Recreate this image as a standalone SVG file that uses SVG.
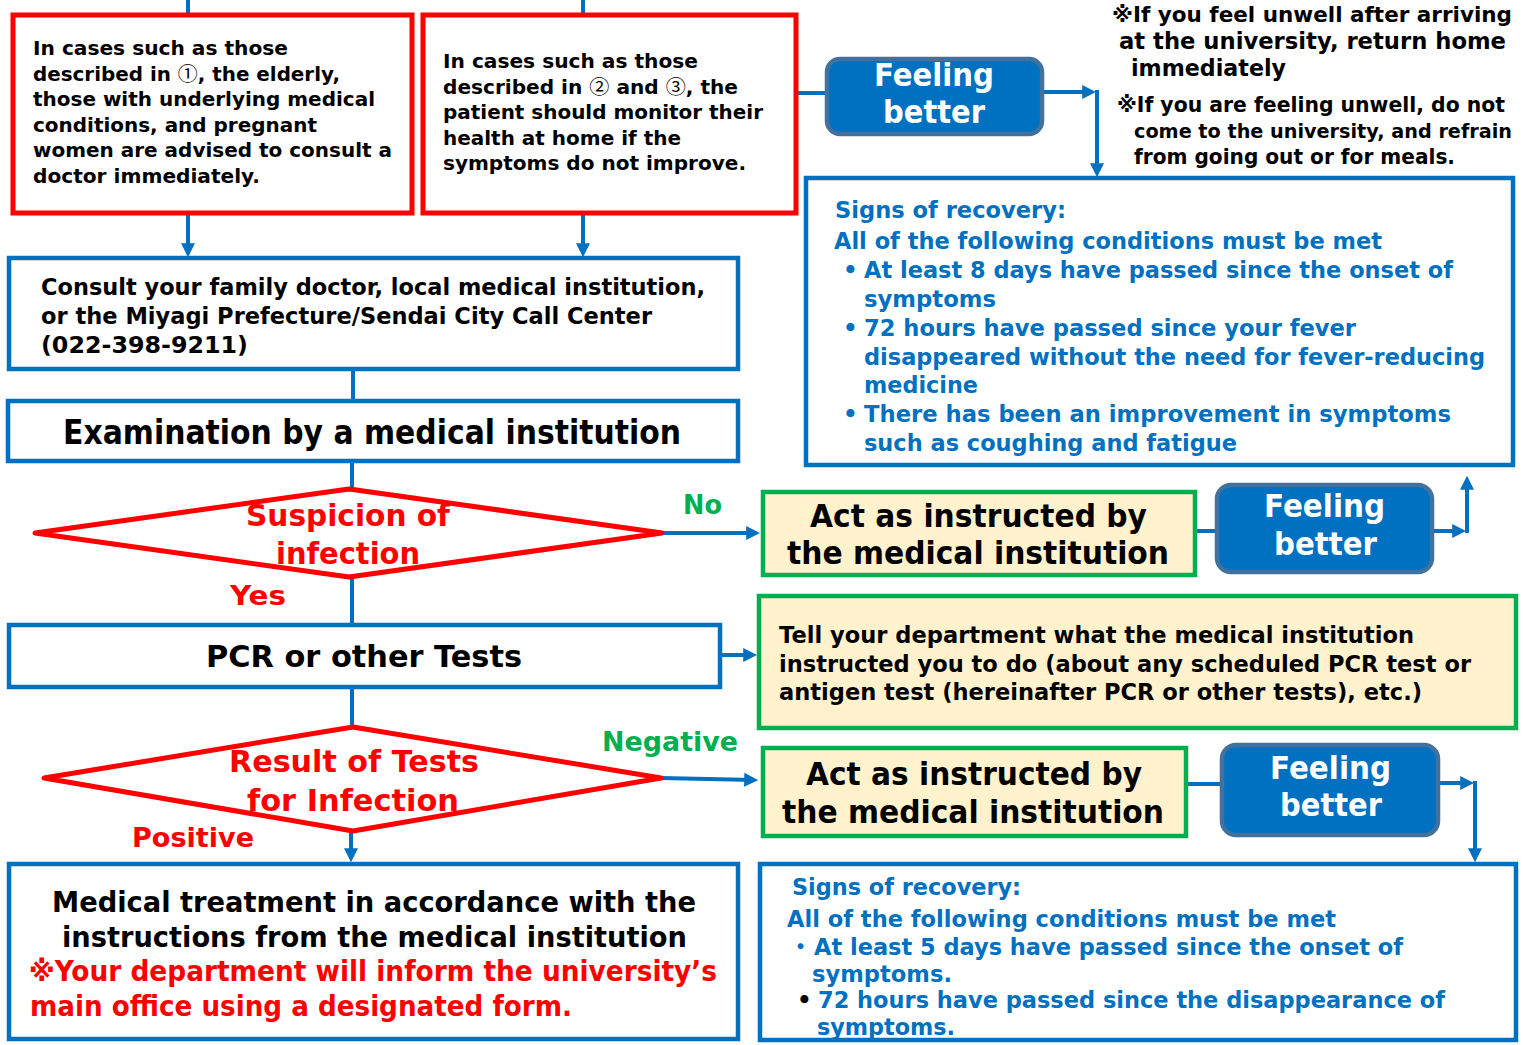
<svg xmlns="http://www.w3.org/2000/svg" width="1523" height="1045" viewBox="0 0 1523 1045">
<defs>
<style>
text{font-family:"DejaVu Sans","Liberation Sans","Noto Sans CJK JP",sans-serif;font-weight:bold;}
.cj{font-family:"Noto Sans CJK JP",sans-serif;font-weight:normal;}
.redbox{fill:#fff;stroke:#FF0000;stroke-width:5;}
.bluebox{fill:#fff;stroke:#0070C0;stroke-width:4.5;}
.greenbox{fill:#FFF2CC;stroke:#00B050;stroke-width:4.5;}
.feel{fill:#0070C0;stroke:#41719C;stroke-width:4.5;}
.diamond{fill:#fff;stroke:#FF0000;stroke-width:5;stroke-linejoin:round;}
.conn{fill:none;stroke:#0070C0;stroke-width:4;}
.arr{marker-end:url(#ah);}
.t19{font-size:19.5px;fill:#000;}
.t23{font-size:23px;fill:#000;}
.t33{font-size:33px;fill:#000;}
.t30{font-size:30px;fill:#000;}
.t31{font-size:31.5px;fill:#000;}
.red30{font-size:30px;fill:#FF0000;}
.red27{font-size:27px;fill:#FF0000;}
.grn27{font-size:27px;fill:#00B050;}
.med{font-size:27.5px;fill:#000;}
.medr{font-size:27.5px;fill:#FF0000;}
.fb{font-size:32px;fill:#fff;}
.sig{font-size:23px;fill:#0070C0;}
.n1{font-size:23px;fill:#000;}
.n2{font-size:21px;fill:#000;}
</style>
<marker id="ah" viewBox="0 0 10 10" refX="7" refY="5" markerWidth="14" markerHeight="15" markerUnits="userSpaceOnUse" orient="auto">
<path d="M0,0 L10,5 L0,10 z" fill="#0070C0"/>
</marker>
</defs>
<rect x="0" y="0" width="1523" height="1045" fill="#fff"/>

<g id="connectors">
<path class="conn" d="M188,0 V15"/>
<path class="conn" d="M583,0 V15"/>
<path class="conn arr" d="M188,213 V253"/>
<path class="conn arr" d="M583,213 V253"/>
<path class="conn" d="M353,369 V400"/>
<path class="conn" d="M352,461 V489"/>
<path class="conn arr" d="M662,533 H756"/>
<path class="conn" d="M352,577 V625"/>
<path class="conn arr" d="M720,655 H753"/>
<path class="conn" d="M352,687 V727"/>
<path class="conn arr" d="M661,778 L754,780"/>
<path class="conn arr" d="M351,831 V858"/>
<path class="conn" d="M797,93 H826"/>
<path class="conn arr" d="M1043,92 H1092"/>
<path class="conn arr" d="M1097,90 V173"/>
<path class="conn" d="M1195,531 H1217"/>
<path class="conn arr" d="M1432,531 H1462"/>
<path class="conn arr" d="M1467,533 V480"/>
<path class="conn" d="M1186,784 H1222"/>
<path class="conn arr" d="M1438,783 H1470"/>
<path class="conn arr" d="M1475,781 V858"/>
</g>

<g id="case1">
<rect class="redbox" x="13" y="15" width="399" height="198"/>
<text class="t19" x="33" y="55" textLength="255" lengthAdjust="spacingAndGlyphs">In cases such as those</text>
<text class="t19" x="33" y="81" textLength="307" lengthAdjust="spacingAndGlyphs">described in <tspan class="cj">①</tspan>, the elderly,</text>
<text class="t19" x="33" y="106" textLength="342" lengthAdjust="spacingAndGlyphs">those with underlying medical</text>
<text class="t19" x="33" y="132" textLength="284" lengthAdjust="spacingAndGlyphs">conditions, and pregnant</text>
<text class="t19" x="33" y="157" textLength="359" lengthAdjust="spacingAndGlyphs">women are advised to consult a</text>
<text class="t19" x="33" y="183" textLength="227" lengthAdjust="spacingAndGlyphs">doctor immediately.</text>
</g>

<g id="case2">
<rect class="redbox" x="423" y="15" width="373" height="198"/>
<text class="t19" x="443" y="68" textLength="255" lengthAdjust="spacingAndGlyphs">In cases such as those</text>
<text class="t19" x="443" y="94" textLength="295" lengthAdjust="spacingAndGlyphs">described in <tspan class="cj">②</tspan> and <tspan class="cj">③</tspan>, the</text>
<text class="t19" x="443" y="119" textLength="320" lengthAdjust="spacingAndGlyphs">patient should monitor their</text>
<text class="t19" x="443" y="145" textLength="238" lengthAdjust="spacingAndGlyphs">health at home if the</text>
<text class="t19" x="443" y="170" textLength="303" lengthAdjust="spacingAndGlyphs">symptoms do not improve.</text>
</g>

<g id="consult">
<rect class="bluebox" x="9" y="258" width="729" height="111"/>
<text class="t23" x="41" y="295" textLength="664" lengthAdjust="spacingAndGlyphs">Consult your family doctor, local medical institution,</text>
<text class="t23" x="41" y="324" textLength="611" lengthAdjust="spacingAndGlyphs">or the Miyagi Prefecture/Sendai City Call Center</text>
<text class="t23" x="41" y="353" textLength="207" lengthAdjust="spacingAndGlyphs">(022-398-9211)</text>
</g>

<g id="examination">
<rect class="bluebox" x="8" y="401" width="730" height="60"/>
<text class="t33" x="63" y="444" textLength="618" lengthAdjust="spacingAndGlyphs">Examination by a medical institution</text>
</g>

<g id="suspicion">
<polygon class="diamond" points="35,533 349,489 662,533 349,577"/>
<text class="red30" x="246" y="526" textLength="204" lengthAdjust="spacingAndGlyphs">Suspicion of</text>
<text class="red30" x="276" y="564" textLength="144" lengthAdjust="spacingAndGlyphs">infection</text>
</g>
<text class="grn27" x="683" y="514" textLength="39" lengthAdjust="spacingAndGlyphs">No</text>
<text class="red27" x="230" y="605" textLength="56" lengthAdjust="spacingAndGlyphs">Yes</text>

<g id="pcr">
<rect class="bluebox" x="9" y="625" width="711" height="62"/>
<text class="t30" x="206" y="667" textLength="316" lengthAdjust="spacingAndGlyphs">PCR or other Tests</text>
</g>

<g id="result">
<polygon class="diamond" points="44,778 353,727 661,778 353,831"/>
<text class="red30" x="229" y="772" textLength="250" lengthAdjust="spacingAndGlyphs">Result of Tests</text>
<text class="red30" x="247" y="811" textLength="212" lengthAdjust="spacingAndGlyphs">for Infection</text>
</g>
<text class="grn27" x="602" y="751" textLength="136" lengthAdjust="spacingAndGlyphs">Negative</text>
<text class="red27" x="132" y="847" textLength="122" lengthAdjust="spacingAndGlyphs">Positive</text>

<g id="treatment">
<rect class="bluebox" x="9" y="864" width="729" height="175"/>
<text class="med" x="52" y="912" textLength="644" lengthAdjust="spacingAndGlyphs">Medical treatment in accordance with the</text>
<text class="med" x="62" y="947" textLength="625" lengthAdjust="spacingAndGlyphs">instructions from the medical institution</text>
<text class="medr" x="29" y="981" textLength="688" lengthAdjust="spacingAndGlyphs">※Your department will inform the university’s</text>
<text class="medr" x="30" y="1016" textLength="542" lengthAdjust="spacingAndGlyphs">main office using a designated form.</text>
</g>

<g id="feeling1">
<rect class="feel" x="827" y="59" width="215" height="75" rx="13"/>
<text class="fb" x="874" y="86" textLength="120" lengthAdjust="spacingAndGlyphs">Feeling</text>
<text class="fb" x="883" y="123" textLength="102" lengthAdjust="spacingAndGlyphs">better</text>
</g>

<g id="notes">
<text class="n1" x="1112" y="22" style="font-size:21.5px" textLength="400" lengthAdjust="spacingAndGlyphs">※If you feel unwell after arriving</text>
<text class="n1" x="1119" y="49" textLength="387" lengthAdjust="spacingAndGlyphs">at the university, return home</text>
<text class="n1" x="1131" y="76" textLength="155" lengthAdjust="spacingAndGlyphs">immediately</text>
<text class="n2" x="1117" y="112" textLength="388" lengthAdjust="spacingAndGlyphs">※If you are feeling unwell, do not</text>
<text class="n2" x="1134" y="138" style="font-size:19.5px" textLength="378" lengthAdjust="spacingAndGlyphs">come to the university, and refrain</text>
<text class="n2" x="1134" y="164" textLength="321" lengthAdjust="spacingAndGlyphs">from going out or for meals.</text>
</g>

<g id="recovery1">
<rect class="bluebox" x="806" y="178" width="707" height="287"/>
<text class="sig" x="835" y="218" textLength="231" lengthAdjust="spacingAndGlyphs">Signs of recovery:</text>
<text class="sig" x="834" y="249" textLength="548" lengthAdjust="spacingAndGlyphs">All of the following conditions must be met</text>
<text class="sig" x="843" y="278">•</text>
<text class="sig" x="864" y="278" textLength="589" lengthAdjust="spacingAndGlyphs">At least 8 days have passed since the onset of</text>
<text class="sig" x="864" y="307" textLength="132" lengthAdjust="spacingAndGlyphs">symptoms</text>
<text class="sig" x="843" y="336">•</text>
<text class="sig" x="864" y="336" textLength="492" lengthAdjust="spacingAndGlyphs">72 hours have passed since your fever</text>
<text class="sig" x="864" y="365" textLength="621" lengthAdjust="spacingAndGlyphs">disappeared without the need for fever-reducing</text>
<text class="sig" x="864" y="393" textLength="114" lengthAdjust="spacingAndGlyphs">medicine</text>
<text class="sig" x="843" y="422">•</text>
<text class="sig" x="864" y="422" textLength="587" lengthAdjust="spacingAndGlyphs">There has been an improvement in symptoms</text>
<text class="sig" x="864" y="451" textLength="373" lengthAdjust="spacingAndGlyphs">such as coughing and fatigue</text>
</g>

<g id="act1">
<rect class="greenbox" x="763" y="492" width="432" height="83"/>
<text class="t31" x="810" y="527" textLength="337" lengthAdjust="spacingAndGlyphs">Act as instructed by</text>
<text class="t31" x="787" y="564" textLength="382" lengthAdjust="spacingAndGlyphs">the medical institution</text>
</g>

<g id="feeling2">
<rect class="feel" x="1217" y="485" width="215" height="87" rx="14"/>
<text class="fb" x="1264" y="517" textLength="121" lengthAdjust="spacingAndGlyphs">Feeling</text>
<text class="fb" x="1274" y="555" textLength="103" lengthAdjust="spacingAndGlyphs">better</text>
</g>

<g id="tell">
<rect class="greenbox" x="759" y="596" width="757" height="132"/>
<text class="t23" x="779" y="643" textLength="635" lengthAdjust="spacingAndGlyphs">Tell your department what the medical institution</text>
<text class="t23" x="779" y="672" textLength="692" lengthAdjust="spacingAndGlyphs">instructed you to do (about any scheduled PCR test or</text>
<text class="t23" x="779" y="700" textLength="643" lengthAdjust="spacingAndGlyphs">antigen test (hereinafter PCR or other tests), etc.)</text>
</g>

<g id="act2">
<rect class="greenbox" x="763" y="748" width="423" height="88"/>
<text class="t31" x="806" y="785" textLength="336" lengthAdjust="spacingAndGlyphs">Act as instructed by</text>
<text class="t31" x="782" y="823" textLength="382" lengthAdjust="spacingAndGlyphs">the medical institution</text>
</g>

<g id="feeling3">
<rect class="feel" x="1222" y="745" width="216" height="90" rx="14"/>
<text class="fb" x="1270" y="779" textLength="121" lengthAdjust="spacingAndGlyphs">Feeling</text>
<text class="fb" x="1280" y="816" textLength="102" lengthAdjust="spacingAndGlyphs">better</text>
</g>

<g id="recovery2">
<rect class="bluebox" x="760" y="864" width="756" height="176"/>
<text class="sig" x="792" y="895" textLength="229" lengthAdjust="spacingAndGlyphs">Signs of recovery:</text>
<text class="sig" x="787" y="927" textLength="549" lengthAdjust="spacingAndGlyphs">All of the following conditions must be met</text>
<text class="sig" x="789" y="955">・</text>
<text class="sig" x="814" y="955" textLength="589" lengthAdjust="spacingAndGlyphs">At least 5 days have passed since the onset of</text>
<text class="sig" x="812" y="982" textLength="140" lengthAdjust="spacingAndGlyphs">symptoms.</text>
<text class="sig" x="797" y="1008" style="fill:#000">•</text>
<text class="sig" x="818" y="1008" textLength="627" lengthAdjust="spacingAndGlyphs">72 hours have passed since the disappearance of</text>
<text class="sig" x="817" y="1035" textLength="138" lengthAdjust="spacingAndGlyphs">symptoms.</text>
</g>
</svg>
